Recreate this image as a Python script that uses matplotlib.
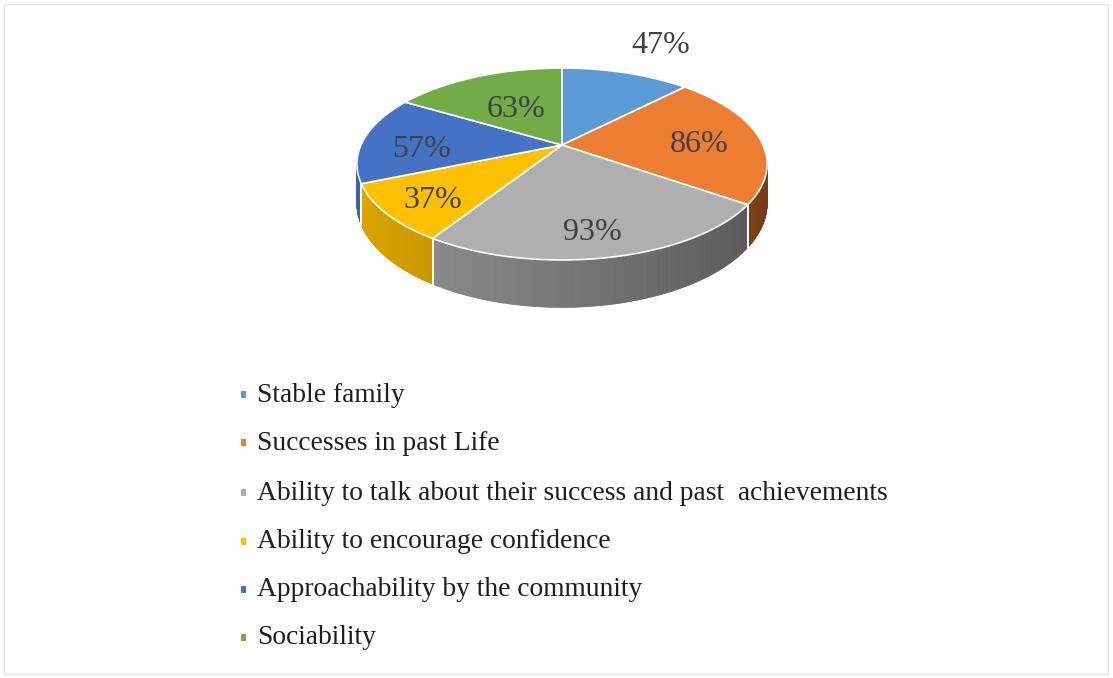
import numpy as np
import matplotlib
matplotlib.use("Agg")
import matplotlib.pyplot as plt
from matplotlib.patches import Polygon, Rectangle
from matplotlib.colors import to_rgb

# Share of respondents naming each quality
labels = [
    "Stable family",
    "Successes in past Life",
    "Ability to talk about their success and past  achievements",
    "Ability to encourage confidence",
    "Approachability by the community",
    "Sociability",
]
values = [47, 86, 93, 37, 57, 63]
value_labels = ["47%", "86%", "93%", "37%", "57%", "63%"]
colors = ["#5B9BD5", "#ED7D31", "#AFAFAF", "#FFC000", "#4472C4", "#70AD47"]

# Layout (pixel units, origin top-left)
W, H = 1113, 678
CX, CY = 562, 145          # projected centre of the pie top
A, B = 201, 92.2           # horizontal / depth radii
K = 0.198                  # perspective strength
DEPTH = 38                 # thickness of the pie

label_pos = [(661, 53), (699, 152), (592, 240), (433, 208), (422, 157), (516, 117)]

fig = plt.figure(figsize=(W / 100, H / 100), dpi=100)
ax = fig.add_axes([0, 0, 1, 1])
ax.set_xlim(0, W)
ax.set_ylim(H, 0)
ax.axis("off")

ax.add_patch(Rectangle((4, 4), W - 9, H - 8, fill=False, ec="#e4e4ea", lw=1.0))


def proj(t, h=0.0):
    u, v = np.cos(t), np.sin(t)
    w = 1 + K * v
    return CX + A * u / w, CY - B * v / w + DEPTH * h / w


# slice angles: start at 12 o'clock and run clockwise
total = float(sum(values))
spans = [v / total * 2 * np.pi for v in values]
starts = np.pi / 2 - np.concatenate([[0], np.cumsum(spans)[:-1]])
ends = starts - np.array(spans)

vis_lo = np.pi + np.arcsin(K)        # left silhouette
vis_hi = 2 * np.pi - np.arcsin(K)    # right silhouette


def norm(a):
    return np.mod(a, 2 * np.pi)


# outer wall, built from thin shaded strips
for s, e, c in zip(starts, ends, colors):
    base = np.array(to_rgb(c))
    ts = np.linspace(e, s, 200)
    for t0, t1 in zip(ts[:-1], ts[1:]):
        tm = norm((t0 + t1) / 2)
        if not (vis_lo <= tm <= vis_hi):
            continue
        f = 0.68 - 0.2 * np.cos(tm)
        col = np.clip(base * f, 0, 1)
        p0t, p1t = proj(t0), proj(t1)
        p1b, p0b = proj(t1, 1), proj(t0, 1)
        ax.add_patch(Polygon([p0t, p1t, p1b, p0b], closed=True,
                             fc=col, ec=col, lw=0.6, zorder=2))
    # white seam on the wall at slice boundaries
    for b in (s, e):
        if vis_lo <= norm(b) <= vis_hi:
            xt, yt = proj(b)
            xb, yb = proj(b, 1)
            ax.plot([xt, xb], [yt, yb], color="white", lw=1.2, zorder=3)

# top faces
for s, e, c in zip(starts, ends, colors):
    ts = np.linspace(s, e, 120)
    pts = [(CX, CY)] + [proj(t) for t in ts]
    ax.add_patch(Polygon(pts, closed=True, fc=c, ec="white", lw=1.2,
                         joinstyle="round", zorder=4))

# value labels
for (x, y), txt in zip(label_pos, value_labels):
    ax.text(x, y, txt, ha="center", va="baseline", fontsize=23,
            family="Liberation Serif", color="#404040", zorder=6)

# legend
row_y = [395, 443, 493, 542, 590, 638]
for y, lab, c in zip(row_y, labels, colors):
    ax.add_patch(Rectangle((241, y - 4), 5, 7, fc=c, ec="none", zorder=5))
    ax.text(257, y, lab, ha="left", va="center", fontsize=19.8,
            family="Liberation Serif", color="#1e1e1e", zorder=5)

fig.savefig("out.png", dpi=100, facecolor="white")
